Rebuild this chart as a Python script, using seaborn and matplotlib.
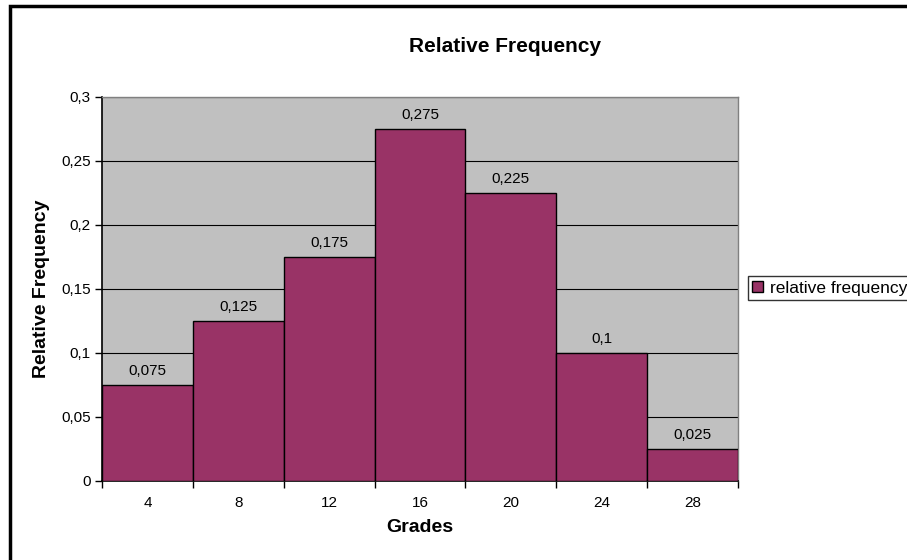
import pandas as pd
import seaborn as sns
import matplotlib.pyplot as plt
from matplotlib.patches import Rectangle
from matplotlib.ticker import FuncFormatter, FixedLocator

# data
grades = ["4", "8", "12", "16", "20", "24", "28"]
rel_freq = [0.075, 0.125, 0.175, 0.275, 0.225, 0.1, 0.025]
y_ticks = [0, 0.05, 0.1, 0.15, 0.2, 0.25, 0.3]

df = pd.DataFrame({"Grades": grades, "Relative Frequency": rel_freq})

sns.set_style("white", {"text.color": "black", "axes.labelcolor": "black",
                        "xtick.color": "black", "ytick.color": "black"})
plt.rcParams['font.family'] = ['Liberation Sans', 'DejaVu Sans']

fig = plt.figure(figsize=(9.07, 5.6), dpi=100)
ax = fig.add_axes([102 / 907, 79 / 560, 636 / 907, 384 / 560])
ax.set_facecolor("#C0C0C0")

sns.barplot(data=df, x="Grades", y="Relative Frequency", color="#993366",
            width=1.0, edgecolor="black", linewidth=1, saturation=1,
            label="relative frequency", ax=ax, zorder=3)

def comma(v, pos=None):
    s = f"{v:.3f}".rstrip("0").rstrip(".")
    return s.replace(".", ",")

ax.bar_label(ax.containers[0], labels=[comma(v) for v in rel_freq],
             padding=5, fontsize=11, color="black", zorder=4)

ax.set_ylim(0, 0.3)
ax.set_xlim(-0.5, len(grades) - 0.5)
ax.set_yticks(y_ticks)
ax.yaxis.set_major_formatter(FuncFormatter(comma))
ax.yaxis.grid(True, color="black", linewidth=0.8, zorder=1)
ax.set_axisbelow(True)

# x ticks sit on the bar boundaries, labels in the middle
ax.xaxis.set_minor_locator(FixedLocator([i - 0.5 for i in range(len(grades) + 1)]))
ax.tick_params(axis="x", which="major", length=0, labelsize=11, pad=11)
ax.tick_params(axis="x", which="minor", length=5, width=1, color="black", bottom=True)
ax.tick_params(axis="y", length=5, width=1, color="black", left=True, labelsize=11, pad=3)

for s in ["left", "bottom"]:
    ax.spines[s].set_color("black")
    ax.spines[s].set_linewidth(1.2)
for s in ["top", "right"]:
    ax.spines[s].set_color("#808080")
    ax.spines[s].set_linewidth(1)

ax.set_xlabel("Grades", fontsize=14, fontweight="bold", labelpad=6)
ax.set_ylabel("Relative Frequency", fontsize=14, fontweight="bold", labelpad=8)

fig.text(505 / 907, 1 - 47 / 560, "Relative Frequency", ha="center", va="center",
         fontsize=15, fontweight="bold")

leg = ax.legend(loc="center left", bbox_to_anchor=(748 / 907, 1 - 288 / 560),
                bbox_transform=fig.transFigure, frameon=True, fancybox=False,
                fontsize=12.5, handlelength=0.6, handleheight=0.6, handletextpad=0.4,
                borderpad=0.25, borderaxespad=0)
leg.get_frame().set_edgecolor("black")
leg.get_frame().set_linewidth(1)

# outer chart border (runs off the right/bottom edges)
fig.patches.append(Rectangle((10 / 907, -0.1), 1.2, 1 - 6 / 560 + 0.1,
                             transform=fig.transFigure, fill=False,
                             edgecolor="black", linewidth=2.5))

fig.savefig("out.png", dpi=100)
